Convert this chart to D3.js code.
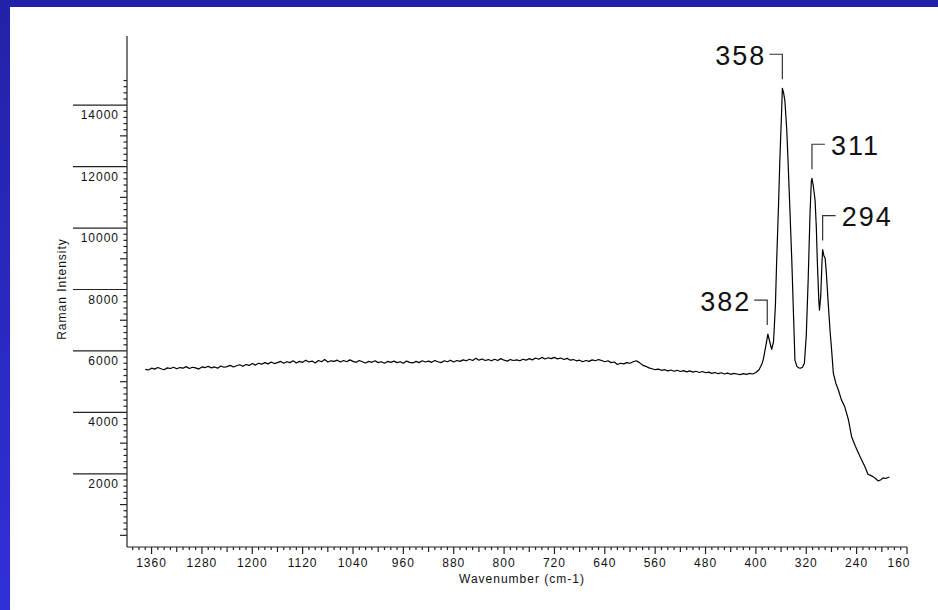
<!DOCTYPE html>
<html lang="en">
<head>
    <meta charset="UTF-8">
    <title>Raman spectrum</title>
    <script src="https://cdn.jsdelivr.net/npm/d3@7"></script>
    <style>
        body { margin: 0; background: #fff; }
        text { font-family: "Liberation Sans", Arial, sans-serif; fill: #111; }
        .tick-label { font-size: 12px; letter-spacing: 1px; }
        .axis-title { font-size: 12px; letter-spacing: 1px; }
        .peak-label { font-size: 27px; letter-spacing: 2px; }
        .spectrum { fill: none; stroke: #000; stroke-width: 1.2px; stroke-linejoin: round; }
        .axis-line, .tick { stroke: #222; stroke-width: 1.2px; }
        .bracket { stroke: #333; stroke-width: 1.2px; fill: none; }
    </style>
</head>
<body>
    <script>
        // spectrum: wavenumber (cm-1) and intensity
        let wavenumbers = [
            1370, 1365, 1360, 1355, 1350, 1345, 1340, 1335, 1330, 1325,
            1320, 1315, 1310, 1305, 1300, 1295, 1290, 1285, 1280, 1275,
            1270, 1265, 1260, 1255, 1250, 1245, 1240, 1235, 1230, 1225,
            1220, 1215, 1210, 1205, 1200, 1195, 1190, 1185, 1180, 1175,
            1170, 1165, 1160, 1155, 1150, 1145, 1140, 1135, 1130, 1125,
            1120, 1115, 1110, 1105, 1100, 1095, 1090, 1085, 1080, 1075,
            1070, 1065, 1060, 1055, 1050, 1045, 1040, 1035, 1030, 1025,
            1020, 1015, 1010, 1005, 1000, 995, 990, 985, 980, 975,
            970, 965, 960, 955, 950, 945, 940, 935, 930, 925,
            920, 915, 910, 905, 900, 895, 890, 885, 880, 875,
            870, 865, 860, 855, 850, 845, 840, 835, 830, 825,
            820, 815, 810, 805, 800, 795, 790, 785, 780, 775,
            770, 765, 760, 755, 750, 745, 740, 735, 730, 725,
            720, 715, 710, 705, 700, 695, 690, 685, 680, 675,
            670, 665, 660, 655, 650, 645, 640, 635, 630, 625,
            620, 615, 610, 605, 600, 595, 590, 585, 580, 575,
            570, 565, 560, 555, 550, 545, 540, 535, 530, 525,
            520, 515, 510, 505, 500, 495, 490, 485, 480, 475,
            470, 465, 460, 455, 450, 445, 440, 435, 430, 425,
            420, 415, 410, 405, 400, 395, 390,
            388, 384, 381, 378, 375, 372, 369, 367, 364, 362,
            359, 358, 356, 354, 351, 349, 346, 343, 340, 338,
            335, 332, 329, 326, 323, 320, 317, 314, 312, 311,
            309, 306, 304, 302.5, 300, 299, 297, 295, 294, 292,
            290, 288, 285, 282, 280, 277, 273, 269, 264, 259,
            253, 248, 242, 237, 232, 227, 222, 218, 214, 210,
            206, 202, 198, 194, 188
        ];
        let intensities = [
            5400, 5380, 5440, 5410, 5460, 5420, 5390, 5450, 5430, 5470,
            5420, 5460, 5440, 5490, 5430, 5470, 5450, 5410, 5480, 5460,
            5500, 5450, 5480, 5440, 5510, 5470, 5490, 5530, 5480, 5520,
            5550, 5500, 5560, 5530, 5590, 5540, 5600, 5570, 5620, 5580,
            5640, 5590, 5620, 5660, 5600, 5650, 5620, 5680, 5610, 5660,
            5630, 5700, 5640, 5670, 5610, 5690, 5650, 5720, 5640, 5680,
            5660, 5700, 5640, 5690, 5650, 5710, 5660, 5630, 5690, 5650,
            5610, 5660, 5630, 5680, 5620, 5650, 5600, 5660, 5630, 5670,
            5620, 5650, 5600, 5670, 5630, 5610, 5660, 5620, 5680, 5640,
            5670, 5630, 5690, 5650, 5620, 5680, 5650, 5700, 5640, 5690,
            5660, 5710, 5680, 5730, 5690, 5760, 5700, 5740, 5690, 5720,
            5680, 5730, 5690, 5750, 5700, 5670, 5720, 5690, 5710, 5680,
            5730, 5700, 5750, 5710, 5770, 5730, 5790, 5740, 5780, 5750,
            5790, 5740, 5770, 5720, 5760, 5700, 5720, 5680, 5700, 5650,
            5690, 5660, 5710, 5680, 5720, 5690, 5650, 5680, 5620, 5640,
            5560, 5600, 5580, 5620, 5600, 5650, 5680, 5620, 5540, 5500,
            5450, 5420, 5390, 5410, 5370, 5390, 5350, 5380, 5340, 5370,
            5330, 5360, 5320, 5350, 5310, 5340, 5300, 5330, 5290, 5310,
            5270, 5300, 5260, 5290, 5250, 5280, 5240, 5270, 5250, 5230,
            5260, 5240, 5270, 5250, 5300, 5390, 5600,
            5750, 6200, 6550, 6300, 6050, 6300, 7500, 8950, 10800, 12200,
            13900, 14550, 14400, 14150, 13200, 12200, 10600, 8950, 7000, 5700,
            5500, 5450, 5440, 5470, 5600, 6500, 8300, 10500, 11500, 11620,
            11400, 10900, 10000, 8950, 7600, 7330, 7800, 8900, 9300, 9100,
            9020, 8500, 7500, 6600, 6100, 5280, 4950, 4730, 4400, 4190,
            3760, 3210, 2900, 2670, 2450, 2240, 1990, 1950, 1910, 1850,
            1770, 1800, 1870, 1850, 1900
        ];

        // annotated peaks
        let peakLabels = ['358', '311', '294', '382'];
        let peakWavenumbers = [358, 311, 294, 382];
        let peakIntensities = [14550, 11620, 9300, 6550];

        // axis ticks
        let xTickLabels = [1360, 1280, 1200, 1120, 1040, 960, 880, 800, 720, 640, 560, 480, 400, 320, 240, 160];
        let yTickLabels = [2000, 4000, 6000, 8000, 10000, 12000, 14000];

        let width = 938;
        let height = 610;

        let svg = d3.select('body')
                    .append('svg')
                    .attr('width', width)
                    .attr('height', height);

        // blue frame
        let grad = svg.append('defs').append('linearGradient')
                    .attr('id', 'side')
                    .attr('x1', 0).attr('y1', 0).attr('x2', 0).attr('y2', 1);
        grad.append('stop').attr('offset', 0).attr('stop-color', '#2222a8');
        grad.append('stop').attr('offset', 1).attr('stop-color', '#3030d8');
        svg.append('rect').attr('x', 0).attr('y', 0).attr('width', 10).attr('height', height).attr('fill', 'url(#side)');
        svg.append('rect').attr('x', 0).attr('y', 0).attr('width', width).attr('height', 7).attr('fill', '#2222a8');

        // scales
        let x = d3.scaleLinear()
                    .domain([1399, 160])
                    .range([127, 907]);
        let y = d3.scaleLinear()
                    .domain([-380, 16250])
                    .range([547, 36]);

        // axis lines
        svg.append('line').attr('class', 'axis-line')
            .attr('x1', x.range()[0]).attr('x2', x.range()[0])
            .attr('y1', y.range()[0]).attr('y2', y.range()[1]);
        svg.append('line').attr('class', 'axis-line')
            .attr('x1', x.range()[0]).attr('x2', x.range()[1])
            .attr('y1', y.range()[0]).attr('y2', y.range()[0]);

        // y ticks every 200, 0..14800
        let yTicks = d3.range(0, 14801, 200);
        svg.append('g').selectAll('line')
            .data(yTicks)
            .enter()
            .append('line')
            .attr('class', 'tick')
            .attr('x1', function(d){
                if (d > 0 && d % 2000 === 0) return 73;
                if (d % 1000 === 0) return 127 - 7;
                return 127 - 3.5;
            })
            .attr('x2', 127)
            .attr('y1', y)
            .attr('y2', y);

        svg.append('g').selectAll('text')
            .data(yTickLabels)
            .enter()
            .append('text')
            .attr('class', 'tick-label')
            .attr('x', 119)
            .attr('y', function(d){ return y(d) + 14; })
            .attr('text-anchor', 'end')
            .text(function(d){ return d; });

        // x ticks every 10
        let xTicks = d3.range(1390, 159, -10);
        svg.append('g').selectAll('line')
            .data(xTicks)
            .enter()
            .append('line')
            .attr('class', 'tick')
            .attr('x1', x)
            .attr('x2', x)
            .attr('y1', 547)
            .attr('y2', function(d){
                if ((1360 - d) % 80 === 0) return 547 + 7;
                if ((1360 - d) % 40 === 0) return 547 + 5;
                return 547 + 3;
            });

        svg.append('g').selectAll('text')
            .data(xTickLabels)
            .enter()
            .append('text')
            .attr('class', 'tick-label')
            .attr('x', function(d, i){ return i === xTickLabels.length - 1 ? x(d) - 8 : x(d); })
            .attr('y', 567)
            .attr('text-anchor', 'middle')
            .text(function(d){ return d; });

        // axis titles
        svg.append('text')
            .attr('class', 'axis-title')
            .attr('x', 522)
            .attr('y', 583)
            .attr('text-anchor', 'middle')
            .text('Wavenumber (cm-1)');
        svg.append('text')
            .attr('class', 'axis-title')
            .attr('transform', 'translate(66,289) rotate(-90)')
            .attr('text-anchor', 'middle')
            .text('Raman Intensity');

        // spectrum
        let points = wavenumbers.map(function(w, i){ return [w, intensities[i]]; });
        let line = d3.line()
                    .x(function(d){ return x(d[0]); })
                    .y(function(d){ return y(d[1]); });
        svg.append('path')
            .datum(points)
            .attr('class', 'spectrum')
            .attr('d', line);

        // peak brackets and labels
        peakLabels.forEach(function(label, i){
            let px = x(peakWavenumbers[i]);
            let bottom = y(peakIntensities[i]) - 9;
            let top = bottom - 25;
            let left = peakWavenumbers[i] > 340;
            let hx = left ? px - 13 : px + 13;
            svg.append('path')
                .attr('class', 'bracket')
                .attr('d', 'M' + hx + ',' + top + 'H' + px + 'V' + bottom);
            svg.append('text')
                .attr('class', 'peak-label')
                .attr('x', left ? px - 16 : px + 19)
                .attr('y', top + 10.5)
                .attr('text-anchor', left ? 'end' : 'start')
                .text(label);
        });
    </script>
</body>
</html>
